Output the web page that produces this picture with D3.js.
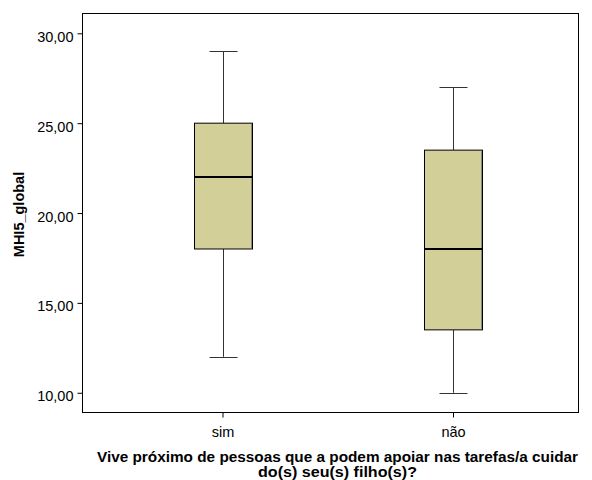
<!DOCTYPE html>
<html>
<head>
<meta charset="utf-8">
<script src="https://cdn.jsdelivr.net/npm/d3@7"></script>
<style>
  body { margin: 0; background: #fff; }
  svg { display: block; font-family: "Liberation Sans", Arial, sans-serif; }
</style>
</head>
<body>
<svg id="chart" width="592" height="480"></svg>
<script>
// Box plot of MHI5_global by proximity to support network
const categories = ["sim", "não"];
const whiskerLow  = [12, 10];
const quartile1   = [18, 13.5];
const medians     = [22, 18];
const quartile3   = [25, 23.5];
const whiskerHigh = [29, 27];
const yTicks = [10, 15, 20, 25, 30];
const yTitle = "MHI5_global";
const xTitleLines = ["Vive próximo de pessoas que a podem apoiar nas tarefas/a cuidar", "do(s) seu(s) filho(s)?"];

const svg = d3.select("#chart");
const frame = { left: 82, right: 578, top: 13, bottom: 412 };
const FONT = "Liberation Sans, Arial, sans-serif";

const y = d3.scaleLinear().domain([8.93, 31.13]).range([frame.bottom, frame.top]);
const x = d3.scalePoint().domain(categories).range([222.5, 453]);

const fmt = d => d.toFixed(2).replace(".", ",");

// Plot frame
svg.append("rect")
  .attr("x", frame.left + 0.5).attr("y", frame.top + 0.5)
  .attr("width", frame.right - frame.left).attr("height", frame.bottom - frame.top)
  .attr("fill", "none").attr("stroke", "#000").attr("stroke-width", 1);

// Y axis
const yAxis = svg.append("g")
  .attr("transform", `translate(${frame.left + 0.5},0)`)
  .call(d3.axisLeft(y).tickValues(yTicks).tickFormat(fmt).tickSize(5).tickPadding(4));
yAxis.select(".domain").remove();
yAxis.selectAll(".tick line").attr("stroke", "#000");
yAxis.selectAll(".tick text").attr("font-size", 14.5).attr("fill", "#000")
  .attr("font-family", FONT).attr("dy", "0.55em");

// X axis
const xAxis = svg.append("g")
  .attr("transform", `translate(0,${frame.bottom + 0.5})`)
  .call(d3.axisBottom(x).tickSize(5));
xAxis.select(".domain").remove();
xAxis.selectAll(".tick line").attr("stroke", "#000");
xAxis.selectAll(".tick text").attr("font-size", 14.5).attr("fill", "#000")
  .attr("font-family", FONT).attr("y", 24.5).attr("dy", 0);

// Boxes
const boxW = 58, capW = 28;
const data = categories.map((c, i) => ({
  c, lo: whiskerLow[i], q1: quartile1[i], med: medians[i], q3: quartile3[i], hi: whiskerHigh[i]
}));

const g = svg.append("g");
data.forEach(d => {
  const cx = Math.round(x(d.c)) + 0.5;
  // whisker stems
  g.append("line").attr("x1", cx).attr("x2", cx)
    .attr("y1", y(d.hi)).attr("y2", y(d.q3)).attr("stroke", "#333").attr("stroke-width", 1);
  g.append("line").attr("x1", cx).attr("x2", cx)
    .attr("y1", y(d.q1)).attr("y2", y(d.lo)).attr("stroke", "#333").attr("stroke-width", 1);
  // caps
  [d.hi, d.lo].forEach(v => {
    g.append("line").attr("x1", cx - capW / 2).attr("x2", cx + capW / 2)
      .attr("y1", Math.round(y(v)) + 0.5).attr("y2", Math.round(y(v)) + 0.5)
      .attr("stroke", "#333").attr("stroke-width", 1);
  });
  // box
  g.append("rect")
    .attr("x", cx - boxW / 2).attr("y", y(d.q3))
    .attr("width", boxW).attr("height", y(d.q1) - y(d.q3))
    .attr("fill", "#D3CF98").attr("stroke", "#000").attr("stroke-width", 1);
  // soft shade on the right edge of the box
  g.append("line").attr("x1", cx + boxW / 2 - 1).attr("x2", cx + boxW / 2 - 1)
    .attr("y1", y(d.q3) + 1).attr("y2", y(d.q1) - 1)
    .attr("stroke", "#8a8a78").attr("stroke-width", 1);
  // median
  g.append("line").attr("x1", cx - boxW / 2).attr("x2", cx + boxW / 2)
    .attr("y1", y(d.med)).attr("y2", y(d.med))
    .attr("stroke", "#000").attr("stroke-width", 2);
});

// Axis titles
svg.append("text")
  .attr("transform", `translate(24,214.5) rotate(-90)`)
  .attr("text-anchor", "middle").attr("font-family", FONT)
  .attr("font-size", 14.5).attr("font-weight", "bold").attr("fill", "#000")
  .text(yTitle);

const xTitle = svg.append("text")
  .attr("text-anchor", "middle").attr("font-family", FONT)
  .attr("font-size", 14.5).attr("font-weight", "bold").attr("fill", "#000");
xTitle.append("tspan").attr("x", 337.5).attr("y", 462)
  .attr("textLength", 481).attr("lengthAdjust", "spacingAndGlyphs")
  .text(xTitleLines[0]);
xTitle.append("tspan").attr("x", 337.5).attr("y", 477)
  .attr("textLength", 159).attr("lengthAdjust", "spacingAndGlyphs")
  .text(xTitleLines[1]);
</script>
</body>
</html>
